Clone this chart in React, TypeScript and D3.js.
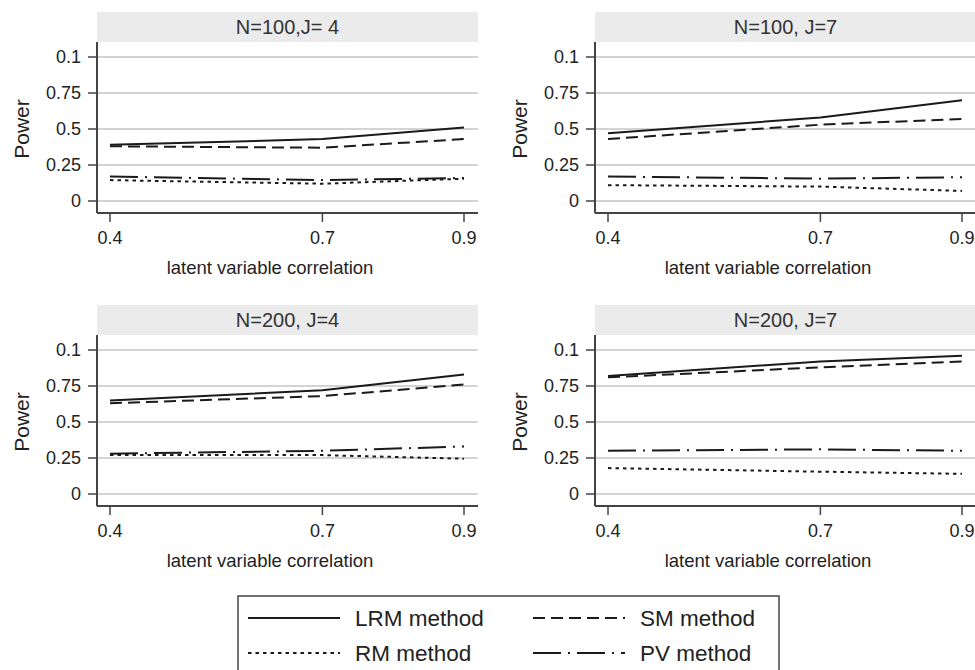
import React from "react";
import * as d3 from "d3";

// latent variable correlation (x) and power estimates per panel
const corr = [0.4, 0.7, 0.9];
const panelTitles = ["N=100,J= 4", "N=100, J=7", "N=200, J=4", "N=200, J=7"];
const lrmPower = [
  [0.39, 0.43, 0.51],
  [0.47, 0.58, 0.7],
  [0.65, 0.72, 0.83],
  [0.82, 0.92, 0.96],
];
const smPower = [
  [0.38, 0.37, 0.43],
  [0.43, 0.53, 0.57],
  [0.63, 0.68, 0.76],
  [0.81, 0.88, 0.92],
];
const rmPower = [
  [0.145, 0.12, 0.155],
  [0.11, 0.1, 0.07],
  [0.27, 0.27, 0.245],
  [0.18, 0.155, 0.14],
];
const pvPower = [
  [0.17, 0.145, 0.16],
  [0.17, 0.155, 0.165],
  [0.28, 0.3, 0.33],
  [0.3, 0.31, 0.3],
];
const yTicks = [0, 0.25, 0.5, 0.75, 1];
const yTickLabels = ["0", "0.25", "0.5", "0.75", "0.1"];
const methods = ["LRM method", "SM method", "RM method", "PV method"];

const FONT = "'Liberation Sans', Arial, Helvetica, sans-serif";
const dashes = ["none", "12,6", "3.5,4", "28,7,2,7"];
const seriesData = [lrmPower, smPower, rmPower, pvPower];

const plotW = 381;
const plotH = 171;
const titleH = 30;
const panelX = [97, 595];
const panelY = [12, 305];

const x = d3.scaleLinear().domain([0.4, 0.9]).range([13, 367]);
const y = d3.scaleLinear().domain([0, 1]).range([159, 15]);

const line = d3
  .line<[number, number]>()
  .x((d) => x(d[0]))
  .y((d) => y(d[1]));

function Panel({ idx }: { idx: number }) {
  const px = panelX[idx % 2];
  const py = panelY[Math.floor(idx / 2)];
  return (
    <g transform={`translate(${px},${py})`}>
      <rect x={0} y={0} width={plotW} height={titleH} fill="#ebebeb" />
      <text x={plotW / 2} y={titleH / 2 + 7} textAnchor="middle" fontSize={20} fill="#333">
        {panelTitles[idx]}
      </text>
      <g transform={`translate(0,${titleH})`}>
        {yTicks.map((t, i) => (
          <g key={i}>
            <line x1={0} x2={plotW} y1={y(t)} y2={y(t)} stroke="#c4c4c4" strokeWidth={1.4} />
            <line x1={-9} x2={0} y1={y(t)} y2={y(t)} stroke="#444" strokeWidth={1.5} />
            <text x={-16} y={y(t) + 6} textAnchor="end" fontSize={18} fill="#222">
              {yTickLabels[i]}
            </text>
          </g>
        ))}
        {corr.map((c) => (
          <g key={c}>
            <line x1={x(c)} x2={x(c)} y1={plotH} y2={plotH + 9} stroke="#444" strokeWidth={1.5} />
            <text x={x(c)} y={plotH + 31} textAnchor="middle" fontSize={18} fill="#222">
              {c}
            </text>
          </g>
        ))}
        <line x1={0} x2={0} y1={0} y2={plotH} stroke="#444" strokeWidth={2} />
        <line x1={0} x2={plotW} y1={plotH} y2={plotH} stroke="#444" strokeWidth={2} />
        {seriesData.map((s, k) => (
          <path
            key={k}
            d={line(corr.map((c, j) => [c, s[idx][j]] as [number, number])) || ""}
            fill="none"
            stroke="#1a1a1a"
            strokeWidth={2}
            strokeDasharray={dashes[k]}
          />
        ))}
        <text
          transform={`translate(-68,${(y(0) + y(1)) / 2}) rotate(-90)`}
          textAnchor="middle"
          fontSize={21}
          fill="#222"
        >
          Power
        </text>
        <text x={173} y={plotH + 61} textAnchor="middle" fontSize={18.5} fill="#222">
          latent variable correlation
        </text>
      </g>
    </g>
  );
}

export default function App() {
  const legX = [248, 533];
  const legY = [618, 653];
  return (
    <svg
      width={975}
      height={670}
      style={{ position: "absolute", left: 0, top: 0, background: "#fff" }}
      fontFamily={FONT}
    >
      {[0, 1, 2, 3].map((i) => (
        <Panel key={i} idx={i} />
      ))}
      <rect x={238} y={596} width={541} height={90} fill="none" stroke="#444" strokeWidth={1.5} />
      {methods.map((m, k) => {
        const lx = legX[k % 2];
        const ly = legY[Math.floor(k / 2)];
        return (
          <g key={m}>
            <line x1={lx} x2={lx + 92} y1={ly} y2={ly} stroke="#1a1a1a" strokeWidth={2} strokeDasharray={dashes[k]} />
            <text x={lx + 107} y={ly + 8} fontSize={22.5} fill="#222">
              {m}
            </text>
          </g>
        );
      })}
    </svg>
  );
}
